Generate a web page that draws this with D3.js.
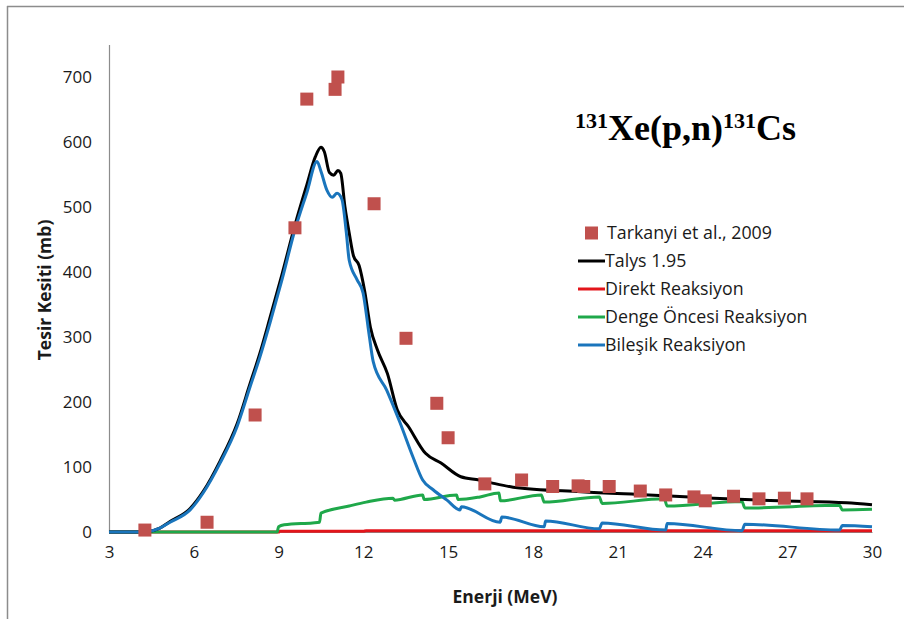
<!DOCTYPE html>
<html>
<head>
<meta charset="utf-8">
<script src="https://cdnjs.cloudflare.com/ajax/libs/d3/7.8.5/d3.min.js"></script>
<style>
  body { margin: 0; background: #fff; }
  .tick text { font-family: "Open Sans", sans-serif; }
</style>
</head>
<body>
<div id="chart"></div>
<script>
// measured points, Tarkanyi et al. 2009 (energy MeV, cross section mb)
var expEnergy = [4.27, 6.47, 8.17, 9.58, 10.0, 11.0, 11.1, 12.38, 13.51, 14.6, 15.0, 16.3, 17.6, 18.7, 19.6, 19.8, 20.7, 21.8, 22.7, 23.7, 24.1, 25.1, 26.0, 26.9, 27.7];
var expValue  = [3, 15, 180, 468, 666, 681, 700, 505, 298, 198, 145, 74, 80, 70, 71, 70, 70, 63, 57, 54, 48, 55, 51, 52, 51];

// Talys 1.95 total
var talys = [[3,0],[4,0],[4.4,1],[4.8,6],[5.16,16],[5.87,36],[6.33,62],[6.93,109],[7.53,166],[7.99,228],[8.34,275],[8.7,330],[9.12,396],[9.58,472],[10,534],[10.3,577],[10.5,592],[10.62,585],[10.8,553],[10.95,549],[11.1,556],[11.2,552],[11.35,500],[11.5,460],[11.65,425],[11.85,410],[12.05,370],[12.25,315],[12.5,280],[12.85,244],[13.2,188],[13.6,162],[14.2,121],[14.75,106],[15.45,85],[16.1,80],[16.5,76],[17.3,69],[19.7,62],[22.1,57],[24.4,52],[26.7,48],[29.1,45],[30,42]];

// direct reaction
var direkt = [[3,0],[9,0],[9.05,1],[12,1],[12.1,2],[30,2]];

// pre-equilibrium
var dengeOncesi = [[3,0],[8.95,0],[9.0,8],[9.2,11],[10.2,14],[10.45,15],[10.5,29],[11.5,40],[12.1,46],[13.05,52],[13.1,49],[14.1,57],[14.15,50],[15.3,57],[15.35,50],[16.13,54],[16.8,60],[16.85,48],[18.3,57],[18.4,46],[20.35,54],[20.45,44],[22.65,51],[22.75,40],[25.4,47],[25.5,37],[28.85,41],[28.95,34],[30,35]];

// compound nucleus
var bilesik = [[3,0],[4,0],[4.4,1],[4.8,6],[5.16,15],[5.87,34],[6.33,60],[6.93,106],[7.53,162],[7.99,223],[8.34,269],[8.7,322],[9.12,388],[9.58,465],[10,522],[10.36,570],[10.5,555],[10.71,526],[10.9,515],[11.07,521],[11.24,512],[11.4,460],[11.5,418],[11.78,388],[11.99,368],[12.2,305],[12.35,262],[12.83,218],[13.3,168],[13.76,115],[14.1,80],[14.47,65],[14.96,49],[15.42,34],[15.47,39],[16.84,15],[16.9,23],[18.4,8],[18.45,17],[20.35,5],[20.45,14],[22.7,3],[22.75,13],[25.4,2],[25.5,12],[28.85,3],[28.95,10],[30,8]];

var xTicks = [3, 6, 9, 12, 15, 18, 21, 24, 27, 30];
var yTicks = [0, 100, 200, 300, 400, 500, 600, 700];

var legendLabels = ["Tarkanyi et al., 2009", "Talys 1.95", "Direkt Reaksiyon", "Denge Öncesi Reaksiyon", "Bileşik Reaksiyon"];
var colors = { exp: "#c0504d", talys: "#000000", direkt: "#e3151b", denge: "#1fa84a", bilesik: "#1a75bc" };

var W = 904, H = 619;
var margin = { top: 44.5, right: 32, bottom: 87, left: 109 };

var svg = d3.select("#chart").append("svg")
    .attr("width", W)
    .attr("height", H);

// outer frame (only top and left visible in the picture)
svg.append("line").attr("x1", 7).attr("x2", W).attr("y1", 6.5).attr("y2", 6.5)
    .attr("stroke", "#8c8c8c").attr("stroke-width", 1.5);
svg.append("line").attr("x1", 7.5).attr("x2", 7.5).attr("y1", 6).attr("y2", H)
    .attr("stroke", "#8c8c8c").attr("stroke-width", 1.5);

var x = d3.scaleLinear().domain([3, 30]).range([margin.left, W - margin.right]);
var y = d3.scaleLinear().domain([0, 750]).range([H - margin.bottom, margin.top]);

// y axis
var yAxis = svg.append("g")
    .attr("transform", "translate(" + margin.left + ",0)")
    .call(d3.axisLeft(y).tickValues(yTicks).tickSize(0).tickPadding(17));
yAxis.select(".domain").attr("stroke", "#8c8c8c").attr("stroke-width", 1.2);
yAxis.selectAll("text").style("font-size", "17px").attr("fill", "#1a1a1a");

// x axis
var xAxis = svg.append("g")
    .attr("transform", "translate(0," + y(0) + ")")
    .call(d3.axisBottom(x).tickValues(xTicks).tickSize(0).tickPadding(14));
xAxis.select(".domain").attr("stroke", "#8c8c8c").attr("stroke-width", 1.2);
xAxis.selectAll("text").style("font-size", "17px").attr("fill", "#1a1a1a");

// axis titles
svg.append("text")
    .attr("x", 505).attr("y", 603)
    .attr("text-anchor", "middle")
    .style("font-family", "Open Sans, sans-serif")
    .style("font-size", "17.5px")
    .style("font-weight", "bold")
    .attr("fill", "#1a1a1a")
    .text("Enerji (MeV)");

svg.append("text")
    .attr("transform", "translate(51,290) rotate(-90)")
    .attr("text-anchor", "middle")
    .style("font-family", "Open Sans, sans-serif")
    .style("font-size", "17.5px")
    .style("font-weight", "bold")
    .attr("fill", "#1a1a1a")
    .text("Tesir Kesiti (mb)");

// curves
var line = d3.line()
    .curve(d3.curveMonotoneX)
    .x(function(d) { return x(d[0]); })
    .y(function(d) { return y(d[1]); });

var series = [
    { data: direkt, color: colors.direkt },
    { data: dengeOncesi, color: colors.denge },
    { data: talys, color: colors.talys },
    { data: bilesik, color: colors.bilesik }
];

svg.append("g").selectAll("path")
    .data(series)
    .enter().append("path")
    .attr("d", function(d) { return line(d.data); })
    .attr("fill", "none")
    .attr("stroke", function(d) { return d.color; })
    .attr("stroke-width", 3)
    .attr("stroke-linejoin", "round");

// experimental squares
var sq = 13;
svg.append("g").selectAll("rect")
    .data(d3.range(expEnergy.length))
    .enter().append("rect")
    .attr("x", function(i) { return x(expEnergy[i]) - sq / 2; })
    .attr("y", function(i) { return y(expValue[i]) - sq / 2; })
    .attr("width", sq)
    .attr("height", sq)
    .attr("fill", colors.exp);

// title
var title = svg.append("text")
    .attr("x", 575).attr("y", 140)
    .style("font-family", "Liberation Serif, serif")
    .style("font-weight", "bold")
    .style("font-size", "36px")
    .attr("fill", "#000");
title.append("tspan").attr("dy", -12).style("font-size", "22px").text("131");
title.append("tspan").attr("dy", 12).text("Xe(p,n)");
title.append("tspan").attr("dy", -12).style("font-size", "22px").text("131");
title.append("tspan").attr("dy", 12).text("Cs");

// legend
var legendColors = [colors.exp, colors.talys, colors.direkt, colors.denge, colors.bilesik];
var legend = svg.append("g").attr("transform", "translate(578,233)");
var item = legend.selectAll("g")
    .data(legendLabels)
    .enter().append("g")
    .attr("transform", function(d, i) { return "translate(0," + (i * 28) + ")"; });

item.each(function(d, i) {
    var g = d3.select(this);
    if (i === 0) {
        g.append("rect").attr("x", 7).attr("y", -6.5).attr("width", 13).attr("height", 13)
            .attr("fill", legendColors[i]);
    } else {
        g.append("line").attr("x1", 0).attr("x2", 27).attr("y1", 0).attr("y2", 0)
            .attr("stroke", legendColors[i]).attr("stroke-width", 3);
    }
    g.append("text")
        .attr("x", i === 0 ? 29 : 27)
        .attr("y", 0)
        .attr("dy", "0.35em")
        .style("font-family", "Open Sans, sans-serif")
        .style("font-size", "17.8px")
        .attr("fill", "#1a1a1a")
        .text(d);
});
</script>
</body>
</html>
